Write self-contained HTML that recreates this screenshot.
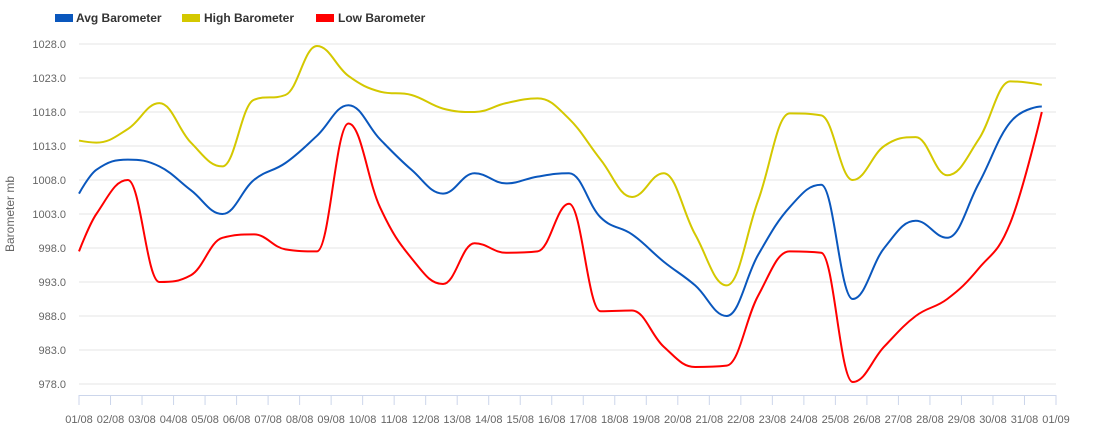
<!DOCTYPE html>
<html><head><meta charset="utf-8"><style>
body{margin:0;background:#fff;}
svg{display:block;font-family:"Liberation Sans",sans-serif;}
</style></head><body>
<svg id="chart" width="1106" height="429">
<g>
 <g><rect x="55" y="14" width="18" height="8" fill="#0a57bd"/><text x="76" y="22" font-size="12" font-weight="bold" fill="#333">Avg Barometer</text></g>
 <g><rect x="182" y="14" width="18" height="8" fill="#d4c800"/><text x="204" y="22" font-size="12" font-weight="bold" fill="#333">High Barometer</text></g>
 <g><rect x="316" y="14" width="18" height="8" fill="#ff0000"/><text x="338" y="22" font-size="12" font-weight="bold" fill="#333">Low Barometer</text></g>
</g>
<text transform="translate(14,214) rotate(-90)" text-anchor="middle" font-size="12" fill="#666">Barometer mb</text>
<g id="grid"></g><g id="yl"></g><g id="xl"></g><g id="series"></g>
</svg>
<script>
const xDays=[0,0.55,1.55,2.55,3.55,4.55,5.55,6.55,7.55,8.55,9.55,10.55,11.55,12.55,13.55,14.55,15.55,16.55,17.55,18.55,19.55,20.55,21.55,22.55,23.55,24.55,25.55,26.55,27.55,28.55,29.55,30.55];
const highVals=[1013.8,1013.5,1015.5,1019.3,1013.5,1010,1019.8,1020.5,1027.7,1023.3,1021,1020.5,1018.5,1018,1019.3,1020,1017,1011,1005.5,1009,1000,992.5,1005,1017.8,1017.5,1008,1013,1014.3,1008.7,1014,1022.5,1022];
const avgVals=[1006,1009.5,1011,1010,1006.5,1003,1008,1010.5,1014.5,1019,1014,1009.5,1006,1009,1007.5,1008.5,1009,1002.5,1000,996,992.5,988,997,1004,1007.3,990.5,998,1002,999.5,1007.5,1016.5,1018.8];
const lowVals=[997.5,1003,1008,993,994,999.5,1000,997.8,997.5,1016.3,1004,996.5,992.7,998.7,997.3,997.5,1004.5,988.7,988.8,983.5,980.5,980.7,991,997.5,997.3,978.3,983.5,988,990.5,995,1001.7,1018];
const yTicks=[978,983,988,993,998,1003,1008,1013,1018,1023,1028];
const xLabels=["01/08","02/08","03/08","04/08","05/08","06/08","07/08","08/08","09/08","10/08","11/08","12/08","13/08","14/08","15/08","16/08","17/08","18/08","19/08","20/08","21/08","22/08","23/08","24/08","25/08","26/08","27/08","28/08","29/08","30/08","31/08","01/09"];
const X0=79,X1=1056,Y0=384,Y1=44;
const xs=d=>X0+d*(X1-X0)/31;
const ys=v=>Y0-(v-978)*(Y0-Y1)/50;
const NS="http://www.w3.org/2000/svg";
function mk(t,a,p){const e=document.createElementNS(NS,t);for(const k in a)e.setAttribute(k,a[k]);p.appendChild(e);return e;}
const grid=document.getElementById('grid'),yl=document.getElementById('yl'),xl=document.getElementById('xl'),ser=document.getElementById('series');
yTicks.forEach(v=>{
 const l=mk('line',{x1:X0,x2:X1,y1:ys(v),y2:ys(v),stroke:'#e6e6e6','stroke-width':1},grid);
 
 
 const t=mk('text',{x:66,y:ys(v)+4,'text-anchor':'end','font-size':11,fill:'#666'},yl);
 t.textContent=v.toFixed(1);
 
 
});
const ax=mk('line',{x1:X0,x2:X1,y1:395.5,y2:395.5,stroke:'#ccd6eb'},xl);


xLabels.forEach((s,i)=>{
 const x=xs(i);
 const tk=mk('line',{x1:x,x2:x,y1:395,y2:405,stroke:'#ccd6eb'},xl);
 
 
 const t=mk('text',{x:x,y:423,'text-anchor':'middle','font-size':11,fill:'#666'},xl);
 t.textContent=s;
 
 
});
function spline(vals){
 const p=vals.map((v,i)=>[xs(xDays[i]),ys(v)]);
 let d='M'+p[0][0]+','+p[0][1];
 const sm=1.5,den=sm+1;
 function ctrl(i){
  if(i<=0||i>=p.length-1)return null;
  const a=p[i-1],b=p[i],c=p[i+1];
  let lx=(sm*b[0]+a[0])/den,ly=(sm*b[1]+a[1])/den,rx=(sm*b[0]+c[0])/den,ry=(sm*b[1]+c[1])/den;
  const dl=Math.hypot(lx-b[0],ly-b[1]),dr=Math.hypot(rx-b[0],ry-b[1]);
  let corr=0;
  if(rx!==lx){const slope=(ry-ly)/(rx-lx);corr=0;const yy=ly+(b[0]-lx)*slope;corr=b[1]-yy;}
  ly+=corr;ry+=corr;
  if(ly>a[1]&&ly>b[1]){ly=Math.max(a[1],b[1]);ry=2*b[1]-ly;}else if(ly<a[1]&&ly<b[1]){ly=Math.min(a[1],b[1]);ry=2*b[1]-ly;}
  if(ry>c[1]&&ry>b[1]){ry=Math.max(c[1],b[1]);ly=2*b[1]-ry;}else if(ry<c[1]&&ry<b[1]){ry=Math.min(c[1],b[1]);ly=2*b[1]-ry;}
  return {l:[lx,ly],r:[rx,ry]};
 }
 const cs=p.map((_,i)=>ctrl(i));
 for(let i=1;i<p.length;i++){
  const c1=cs[i-1]?cs[i-1].r:p[i-1],c2=cs[i]?cs[i].l:p[i];
  d+=' C'+c1[0]+','+c1[1]+' '+c2[0]+','+c2[1]+' '+p[i][0]+','+p[i][1];
 }
 return d;
}
[[highVals,'#d4c800','series-high'],[avgVals,'#0a57bd','series-avg'],[lowVals,'#ff0000','series-low']].forEach(s=>{
 const e=mk('path',{d:spline(s[0]),fill:'none',stroke:s[1],'stroke-width':2,'stroke-linejoin':'round'},ser);
 
 
});
</script>
</body></html>
